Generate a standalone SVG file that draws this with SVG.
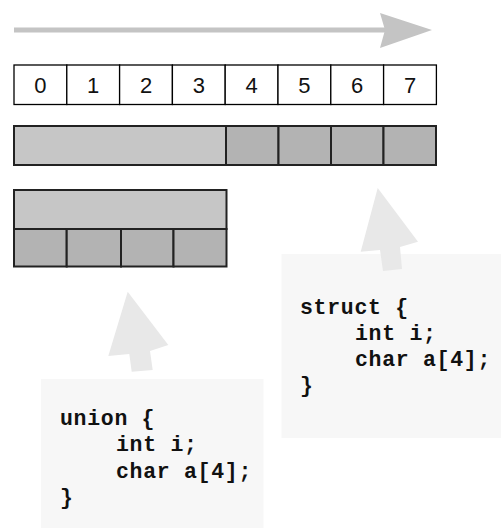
<svg xmlns="http://www.w3.org/2000/svg" width="501" height="529" viewBox="0 0 501 529">
<style>
.idx{fill:#fff;stroke:#000;stroke-width:1.3}
.lt{fill:#c6c6c6;stroke:#222;stroke-width:2}
.dk{fill:#b3b3b3;stroke:#222;stroke-width:2}
.dg{font-family:"Liberation Sans",Arial,sans-serif;font-size:22px;fill:#111;text-anchor:middle}
.code{font-family:"Liberation Mono","Courier New",monospace;font-weight:bold;font-size:21.5px;letter-spacing:0.7px;fill:#111}
.box{fill:#f7f7f7}
.ptr{fill:#e8e8e8}
</style>
<g id="timeline">
<line x1="14" y1="30" x2="386" y2="30" stroke="#c4c4c4" stroke-width="5"/>
<polygon points="380,13 432,30 380,48 385,30" fill="#c4c4c4"/>
</g>
<g id="bytes">
<rect class="idx" x="14" y="65" width="52.8" height="39.5"/>
<rect class="idx" x="66.8" y="65" width="52.8" height="39.5"/>
<rect class="idx" x="119.6" y="65" width="52.8" height="39.5"/>
<rect class="idx" x="172.4" y="65" width="52.8" height="39.5"/>
<rect class="idx" x="225.2" y="65" width="52.8" height="39.5"/>
<rect class="idx" x="278" y="65" width="52.8" height="39.5"/>
<rect class="idx" x="330.8" y="65" width="52.8" height="39.5"/>
<rect class="idx" x="383.6" y="65" width="52.8" height="39.5"/>
<text class="dg" x="40.4" y="93">0</text>
<text class="dg" x="93.2" y="93">1</text>
<text class="dg" x="146" y="93">2</text>
<text class="dg" x="198.8" y="93">3</text>
<text class="dg" x="251.6" y="93">4</text>
<text class="dg" x="304.4" y="93">5</text>
<text class="dg" x="357.2" y="93">6</text>
<text class="dg" x="410" y="93">7</text>
</g>
<g id="struct-layout">
<rect class="lt" x="14" y="126" width="212" height="39"/>
<rect class="dk" x="226" y="126" width="52.5" height="39"/>
<rect class="dk" x="278.5" y="126" width="52.5" height="39"/>
<rect class="dk" x="331" y="126" width="52.5" height="39"/>
<rect class="dk" x="383.5" y="126" width="52.5" height="39"/>
</g>
<g id="union-layout">
<rect class="lt" x="14" y="190" width="212.5" height="39"/>
<rect class="dk" x="14" y="229" width="52.7" height="37.5"/>
<rect class="dk" x="66.7" y="229" width="54.3" height="37.5"/>
<rect class="dk" x="121" y="229" width="52.5" height="37.5"/>
<rect class="dk" x="173.5" y="229" width="53" height="37.5"/>
</g>
<g id="struct-note">
<rect class="box" x="281.5" y="254" width="219.5" height="184"/>
<text class="code" x="300" y="314">struct {</text>
<text class="code" x="355" y="340">int i;</text>
<text class="code" x="355" y="366">char a[4];</text>
<text class="code" x="300" y="392">}</text>
</g>
<g id="union-note">
<rect class="box" x="41" y="379" width="222.5" height="149"/>
<text class="code" x="60" y="424.5">union {</text>
<text class="code" x="116" y="451">int i;</text>
<text class="code" x="116" y="477.5">char a[4];</text>
<text class="code" x="60" y="504">}</text>
</g>
<g id="connectors">
<polygon class="ptr" points="377.7,188 360.7,251.7 380,250 383,271 402,269 400,247 418,241.7"/>
<polygon class="ptr" points="127.7,291.7 108.3,356 129.3,354 131.7,371.7 152.7,370 150,351 168.3,345"/>
</g>
</svg>
